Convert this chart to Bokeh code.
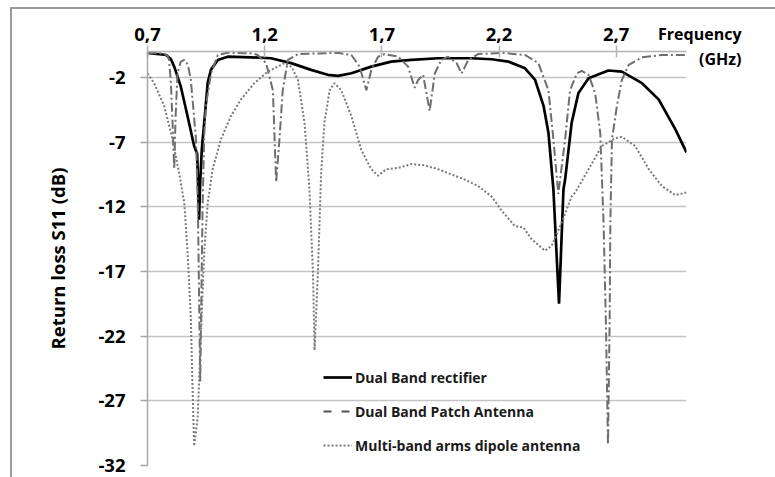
from bokeh.plotting import figure
from bokeh.models import Range1d, FixedTicker, Legend, LegendItem, Label, ColumnDataSource
from bokeh.embed import file_html
from bokeh.resources import INLINE

# ---- data (GHz, dB) ----
rect_f = [0.70, 0.78, 0.80, 0.814, 0.842, 0.871, 0.899, 0.912, 0.920, 0.925, 0.932, 0.942, 0.957,
          0.971, 1.0, 1.042, 1.142, 1.227, 1.313, 1.398, 1.469, 1.513, 1.57, 1.655, 1.74, 1.826,
          1.94, 2.083, 2.168, 2.24, 2.311, 2.354, 2.39, 2.411, 2.432, 2.456, 2.475, 2.482, 2.51,
          2.539, 2.582, 2.667, 2.724, 2.81, 2.881, 2.952, 3.0]
rect_db = [-0.10, -0.27, -0.6, -1.17, -2.7, -5.0, -7.3, -7.9, -13.0, -10.0, -7.5, -5.5, -2.4,
           -1.4, -0.65, -0.4, -0.45, -0.52, -0.9, -1.42, -1.8, -1.88, -1.68, -1.17, -0.78, -0.65,
           -0.52, -0.52, -0.6, -0.78, -1.3, -2.2, -4.2, -6.3, -10.65, -19.5, -10.65, -9.9, -5.5,
           -3.2, -2.06, -1.47, -1.55, -2.45, -3.7, -6.0, -7.8]

patch_f = [0.70, 0.76, 0.785, 0.792, 0.80, 0.808, 0.814, 0.82, 0.828, 0.842, 0.857, 0.872, 0.885,
           0.907, 0.915, 0.925, 0.935, 0.942, 0.949, 0.971, 1.0, 1.042, 1.15, 1.17, 1.206, 1.235,
           1.249, 1.263, 1.277, 1.299, 1.342, 1.513, 1.57, 1.605, 1.634, 1.655, 1.684, 1.712, 1.77,
           1.812, 1.84, 1.855, 1.876, 1.904, 1.926, 1.954, 1.983, 2.019, 2.04, 2.069, 2.111, 2.211,
           2.311, 2.368, 2.411, 2.432, 2.453, 2.482, 2.503, 2.532, 2.553, 2.582, 2.61, 2.632, 2.646,
           2.656, 2.665, 2.672, 2.675, 2.682, 2.703, 2.724, 2.753, 2.81, 2.895, 3.0]
patch_db = [-0.1, -0.15, -0.3, -0.65, -2.5, -6.0, -9.1, -5.0, -1.7, -0.78, -0.65, -1.0, -2.2,
            -6.8, -12.0, -25.5, -12.0, -6.5, -4.2, -1.7, -0.27, -0.1, -0.15, -0.27, -0.9, -3.0,
            -10.1, -6.8, -3.0, -0.65, -0.2, -0.1, -0.27, -1.17, -3.0, -1.42, -0.4, -0.2, -0.4,
            -1.17, -2.8, -2.2, -1.8, -4.6, -1.7, -0.65, -0.4, -0.9, -1.7, -0.65, -0.2, -0.1,
            -0.27, -0.9, -3.0, -6.8, -11.0, -6.8, -3.0, -1.7, -1.5, -1.8, -3.2, -6.3, -13.2,
            -20.9, -30.4, -20.9, -13.2, -6.8, -4.2, -2.2, -1.04, -0.45, -0.27, -0.27]

dip_f = [0.70, 0.728, 0.771, 0.807, 0.835, 0.857, 0.871, 0.885, 0.892, 0.899, 0.914, 0.928, 0.942,
         0.957, 0.978, 1.013, 1.056, 1.099, 1.156, 1.213, 1.256, 1.284, 1.315, 1.342, 1.37, 1.391,
         1.406, 1.413, 1.427, 1.441, 1.455, 1.477, 1.498, 1.527, 1.57, 1.612, 1.655, 1.684, 1.719,
         1.769, 1.826, 1.883, 1.94, 1.997, 2.054, 2.111, 2.168, 2.211, 2.268, 2.304, 2.339, 2.396,
         2.425, 2.468, 2.51, 2.525, 2.582, 2.639, 2.696, 2.724, 2.781, 2.839, 2.895, 2.952, 3.0]
dip_db = [-1.7, -2.45, -4.2, -6.8, -9.4, -11.7, -15.5, -20.65, -25.8, -30.5, -28.3, -21.9, -15.5,
          -11.7, -9.1, -6.8, -5.0, -3.7, -2.45, -1.55, -1.17, -0.9, -1.2, -2.2, -5.5, -10.65,
          -17.1, -23.1, -17.1, -9.4, -5.5, -3.0, -2.45, -3.0, -5.0, -7.6, -9.1, -9.6, -9.1,
          -9.0, -8.7, -8.8, -9.1, -9.5, -9.9, -10.4, -11.2, -12.3, -13.5, -13.6, -14.5, -15.4,
          -15.0, -13.2, -11.2, -10.9, -9.1, -7.3, -6.7, -6.6, -7.3, -9.1, -10.4, -11.1, -10.9]

series_names = ["Dual Band rectifier", "Dual Band Patch Antenna", "Multi-band arms dipole antenna"]
x_ticks = [0.7, 1.2, 1.7, 2.2, 2.7]
x_tick_labels = ["0,7", "1,2", "1,7", "2,2", "2,7"]
y_ticks = [-32, -27, -22, -17, -12, -7, -2]
y_tick_labels = ["-32", "-27", "-22", "-17", "-12", "-7", "-2"]
x_title = ["Frequency", "(GHz)"]
y_title = "Return loss S11 (dB)"

FONT = "Open Sans"

p = figure(width=775, height=477, output_backend="svg", toolbar_location=None,
           x_range=Range1d(0.7, 3.0), y_range=Range1d(-32, 0),
           x_axis_location="above",
           min_border_left=147, min_border_right=89, min_border_top=51, min_border_bottom=12)
p.outline_line_color = None
p.background_fill_color = "white"
p.border_fill_color = "white"
# outer chart border: only its left and top edges fall inside the window
p.stylesheets = [":host::after { content: ''; position: absolute; left: 10px; top: 7px; "
                 "width: 900px; height: 600px; border-left: 2px solid #9a9a9a; "
                 "border-top: 2px solid #9a9a9a; pointer-events: none; z-index: 20; }"]

# axes
xa = p.xaxis[0]
xa.ticker = FixedTicker(ticks=x_ticks, minor_ticks=[])
xa.major_label_overrides = {t: l for t, l in zip(x_ticks, x_tick_labels)}
xa.axis_line_color = "#b4b4b4"
xa.axis_line_width = 1.5
xa.major_tick_line_color = "#b4b4b4"
xa.major_tick_line_width = 1.5
xa.major_tick_in = 6
xa.major_tick_out = 6
xa.minor_tick_line_color = None
xa.major_label_standoff = 5
xa.major_label_text_font = FONT
xa.major_label_text_font_style = "bold"
xa.major_label_text_font_size = "18.5px"
xa.major_label_text_color = "black"

ya = p.yaxis[0]
ya.ticker = FixedTicker(ticks=y_ticks, minor_ticks=[])
ya.major_label_overrides = {t: l for t, l in zip(y_ticks, y_tick_labels)}
ya.axis_line_color = "#a6a6a6"
ya.axis_line_width = 1.5
ya.major_tick_line_color = "#a6a6a6"
ya.major_tick_line_width = 1.5
ya.major_tick_in = 0
ya.major_tick_out = 7
ya.minor_tick_line_color = None
ya.major_label_standoff = 15
ya.major_label_text_font = FONT
ya.major_label_text_font_style = "bold"
ya.major_label_text_font_size = "18.5px"
ya.major_label_text_color = "black"
ya.axis_label = y_title
ya.axis_label_text_font = FONT
ya.axis_label_text_font_style = "bold"
ya.axis_label_text_font_size = "18.5px"
ya.axis_label_text_color = "black"
ya.axis_label_standoff = 25

p.xgrid.grid_line_color = None
p.ygrid.grid_line_color = "#c4c4c4"
p.ygrid.grid_line_width = 1.5
p.ygrid[0].ticker = FixedTicker(ticks=y_ticks, minor_ticks=[])

# lines
r1 = p.line(rect_f, rect_db, line_color="black", line_width=2.7)
r2 = p.line(patch_f, patch_db, line_color="#6e6e6e", line_width=2, line_dash="9 3 2 3")
r3 = p.line(dip_f, dip_db, line_color="#7a7a7a", line_width=2, line_dash="2 2")

# legend keys (renderers with no drawable point, styled like the original legend keys)
nan = float("nan")
key_src = ColumnDataSource(data=dict(x=[nan], y=[nan]))
l1 = p.line("x", "y", source=key_src, line_color="black", line_width=2.7)
l2 = p.line("x", "y", source=key_src, line_color="#555555", line_width=2, line_dash="8 10")
l3 = p.line("x", "y", source=key_src, line_color="#7a7a7a", line_width=2, line_dash="2 2")

legend = Legend(items=[LegendItem(label=series_names[0], renderers=[l1]),
                       LegendItem(label=series_names[1], renderers=[l2]),
                       LegendItem(label=series_names[2], renderers=[l3])],
                location=(176, 10), orientation="vertical",
                glyph_width=29, glyph_height=20, label_height=20, label_standoff=3,
                spacing=14, padding=0, margin=0,
                border_line_color=None, background_fill_alpha=0,
                label_text_font=FONT, label_text_font_style="bold",
                label_text_font_size="14px", label_text_color="#1a1a1a")
p.add_layout(legend, "center")

# frequency label (top right): one two-line label in the right panel so it is not clipped
p.add_layout(Label(x=741, y=22, x_units="canvas", y_units="canvas",
                   text=x_title[0] + "\n" + x_title[1],
                   text_align="right", text_baseline="top", text_line_height=1.15,
                   text_font=FONT, text_font_style="bold", text_font_size="16px",
                   text_color="black"), "right")

open("out.html", "w").write(file_html(p, INLINE))
